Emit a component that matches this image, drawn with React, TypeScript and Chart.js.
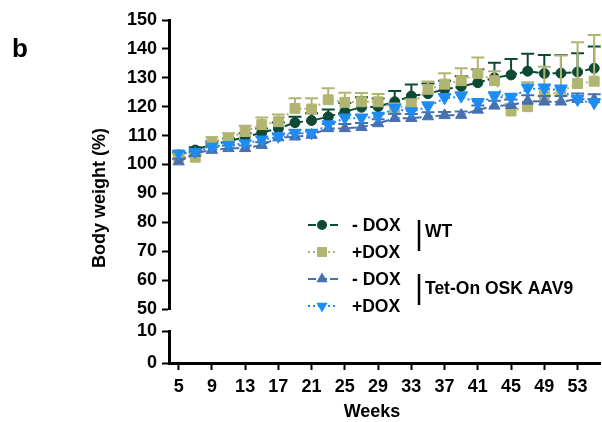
import React, { useEffect, useRef } from 'react';
import { Chart, registerables } from 'chart.js';

Chart.register(...registerables);

// ---- data ----
const weeks = [5, 7, 9, 11, 13, 15, 17, 19, 21, 23, 25, 27, 29, 31, 33, 35, 37, 39, 41, 43, 45, 47, 49, 51, 53, 55];

const wtMinusDox = [103.3, 105, 107, 108, 109.5, 111, 112.5, 114.5, 115.2, 116.5, 118.3, 119.8, 120, 121.7, 123.7, 124.5, 126, 127, 128.3, 130, 131, 132.3, 131.5, 131.6, 132, 133.3];
const wtMinusDoxErr = [0.8, 1, 1, 1, 1.3, 1.5, 2, 2, 2.5, 2.5, 3, 3.5, 2.8, 3.7, 4, 3.5, 3, 3.5, 4.7, 5.2, 5.5, 6, 6.4, 6.3, 6.5, 7.5];

const wtPlusDox = [102.7, 102.5, 107.9, 109.1, 111.4, 113.8, 114.8, 119.4, 119.2, 122.4, 121.5, 121.7, 121.7, 119.5, 120.6, 126, 127.8, 129, 131.5, 129, 118.5, 120, 123.8, 125.2, 128, 128.8];
const wtPlusDoxErr = [1, 1, 1.5, 1.7, 2, 2.5, 2.5, 3.5, 3.7, 4, 3.3, 3, 2.7, 1.5, 2, 2.7, 3.8, 4.3, 5.5, 3.3, 2.5, 8.5, 10, 12.5, 14.3, 16];

const tetMinusDox = [101, 103.9, 105, 105.6, 105.6, 106.7, 109.3, 109.6, 110.2, 112.5, 112.5, 112.9, 114.2, 116, 116, 116.6, 117, 117.1, 118.9, 120.3, 120.5, 122, 121.7, 121.7, 122.6, 122.5];
const tetMinusDoxErr = [1, 1, 1, 1, 1, 1, 1.2, 1.2, 1.2, 1.5, 1.5, 1.5, 1.5, 1.5, 1.5, 1.5, 1.2, 1.2, 1.5, 1.8, 2, 2, 2, 2, 2, 1.8];

const tetPlusDox = [103.9, 104.3, 106.2, 106.7, 107.3, 108.5, 109.6, 110.8, 110.8, 113.7, 116, 116, 116.6, 119.4, 118.2, 120, 122.9, 123.5, 121.2, 123.5, 123, 126.2, 126.2, 125.8, 122.3, 121.2];
const tetPlusDoxErr = [0.8, 1, 1, 1, 1, 1.2, 1.2, 1.2, 1.2, 1.3, 1.3, 1.3, 1.3, 1.3, 1.3, 1.5, 1.5, 1.5, 1.5, 1.5, 1.5, 1.5, 1.5, 1.5, 1.5, 1.5];

const xTickValues = [5, 9, 13, 17, 21, 25, 29, 33, 37, 41, 45, 49, 53];
const yTopTicks = [50, 60, 70, 80, 90, 100, 110, 120, 130, 140, 150];
const yBottomTicks = [0, 10];

const seriesLabels = ['- DOX', '+DOX', '- DOX', '+DOX'];
const groupLabels = ['WT', 'Tet-On OSK AAV9'];

const COLORS = ['#0c4a34', '#b2b572', '#4870af', '#1e8cf5'];
const FONT_FAMILY = '"Liberation Sans", Arial, sans-serif';

const errorSets = [wtMinusDoxErr, wtPlusDoxErr, tetMinusDoxErr, tetPlusDoxErr];

function toPoints(vals: number[]) {
  return weeks.map((w, i) => ({ x: w, y: vals[i] }));
}

function drawMarker(ctx: CanvasRenderingContext2D, style: string, x: number, y: number, r: number, rot: number) {
  ctx.beginPath();
  if (style === 'circle') {
    ctx.arc(x, y, r, 0, Math.PI * 2);
  } else if (style === 'rect') {
    const s = r * Math.SQRT1_2;
    ctx.rect(x - s, y - s, 2 * s, 2 * s);
  } else {
    let rad = (rot * Math.PI) / 180;
    ctx.moveTo(x + Math.sin(rad) * r, y - Math.cos(rad) * r);
    rad += (2 * Math.PI) / 3;
    ctx.lineTo(x + Math.sin(rad) * r, y - Math.cos(rad) * r);
    rad += (2 * Math.PI) / 3;
    ctx.lineTo(x + Math.sin(rad) * r, y - Math.cos(rad) * r);
    ctx.closePath();
  }
  ctx.fill();
}

const errorBarPlugin = {
  id: 'errorBars',
  beforeDatasetDraw(chart: any, args: any) {
    const idx = args.index;
    const meta = args.meta;
    const ds = chart.data.datasets[idx];
    const errs = errorSets[idx];
    const yScale = chart.scales[meta.yAxisID];
    const ctx = chart.ctx;
    ctx.save();
    ctx.strokeStyle = ds.borderColor;
    ctx.lineWidth = 2;
    ctx.setLineDash([]);
    meta.data.forEach((pt: any, i: number) => {
      const v = ds.data[i].y;
      const yTop = yScale.getPixelForValue(v + errs[i]);
      ctx.beginPath();
      ctx.moveTo(pt.x, pt.y);
      ctx.lineTo(pt.x, yTop);
      ctx.moveTo(pt.x - 6.5, yTop);
      ctx.lineTo(pt.x + 6.5, yTop);
      ctx.stroke();
    });
    ctx.restore();
  },
};

const annotationPlugin = {
  id: 'annotations',
  afterDraw(chart: any) {
    const ctx = chart.ctx;
    const dsets = chart.data.datasets;
    ctx.save();
    ctx.fillStyle = '#000';
    // panel letter
    ctx.font = `bold 26px ${FONT_FAMILY}`;
    ctx.textAlign = 'left';
    ctx.textBaseline = 'alphabetic';
    ctx.fillText('b', 12, 57);

    // axis titles
    ctx.font = `bold 18px ${FONT_FAMILY}`;
    ctx.textAlign = 'center';
    ctx.textBaseline = 'middle';
    ctx.fillText('Weeks', 372, 412);
    ctx.save();
    ctx.translate(100, 198);
    ctx.rotate(-Math.PI / 2);
    ctx.fillText('Body weight (%)', 0, 0);
    ctx.restore();

    // legend
    const rowY = [225, 252, 279, 306];
    dsets.forEach((ds: any, i: number) => {
      const y = rowY[i];
      ctx.save();
      ctx.strokeStyle = ds.borderColor;
      ctx.lineWidth = 2;
      ctx.setLineDash(ds.borderDash || []);
      ctx.beginPath();
      ctx.moveTo(308, y);
      ctx.lineTo(338, y);
      ctx.stroke();
      ctx.setLineDash([]);
      ctx.fillStyle = ds.pointBackgroundColor;
      drawMarker(ctx, ds.pointStyle, 322, y, ds.pointRadius, ds.pointRotation || 0);
      ctx.restore();
      ctx.fillStyle = '#000';
      ctx.font = `bold 17.5px ${FONT_FAMILY}`;
      ctx.textAlign = 'left';
      ctx.textBaseline = 'middle';
      ctx.fillText(seriesLabels[i], 352, y + 1);
    });
    // group brackets
    ctx.strokeStyle = '#000';
    ctx.lineWidth = 2.5;
    ctx.beginPath();
    ctx.moveTo(419, 220);
    ctx.lineTo(419, 251);
    ctx.moveTo(419, 274);
    ctx.lineTo(419, 305);
    ctx.stroke();
    ctx.textAlign = 'left';
    ctx.textBaseline = 'middle';
    ctx.fillText(groupLabels[0], 425, 232);
    ctx.fillText(groupLabels[1], 425, 289);
    ctx.restore();
  },
};

const tickFont = { family: FONT_FAMILY, size: 18, weight: 'bold' as const };
const gridOpts = { drawOnChartArea: false, drawTicks: true, tickLength: 7, tickWidth: 2, tickColor: '#000' };
const borderOpts = { display: true, color: '#000', width: 3 };

export default function App() {
  const canvasRef = useRef<HTMLCanvasElement | null>(null);

  useEffect(() => {
    if (!canvasRef.current) return;
    const mk = (i: number, vals: number[], style: string, radius: number, dash: number[], rot = 0) => ({
      label: seriesLabels[i],
      data: toPoints(vals),
      xAxisID: 'x',
      yAxisID: 'y',
      borderColor: COLORS[i],
      backgroundColor: COLORS[i],
      pointBackgroundColor: COLORS[i],
      pointBorderColor: COLORS[i],
      pointBorderWidth: 1,
      pointStyle: style,
      pointRadius: radius,
      pointRotation: rot,
      borderWidth: 2,
      borderDash: dash,
      fill: false,
      tension: 0,
      clip: false,
      order: 3 - i,
    });
    const chart = new Chart(canvasRef.current, {
      type: 'line',
      data: {
        datasets: [
          mk(0, wtMinusDox, 'circle', 5, [8, 3]),
          mk(1, wtPlusDox, 'rect', 7, [2, 3]),
          mk(2, tetMinusDox, 'triangle', 6.5, [8, 3]),
          mk(3, tetPlusDox, 'triangle', 6.5, [2, 3], 180),
        ] as any,
      },
      plugins: [errorBarPlugin, annotationPlugin],
      options: {
        animation: false,
        responsive: false,
        maintainAspectRatio: false,
        devicePixelRatio: 1,
        layout: { autoPadding: false, padding: { left: 0, top: 20, right: 2, bottom: 0 } },
        plugins: { legend: { display: false }, tooltip: { enabled: false }, title: { display: false } },
        scales: {
          x: {
            type: 'linear',
            position: 'bottom',
            min: 3.84,
            max: 55.7,
            afterBuildTicks: (s: any) => {
              s.ticks = xTickValues.map((v) => ({ value: v }));
            },
            afterFit: (s: any) => {
              s.height = 59;
              s.paddingLeft = 0;
              s.paddingRight = 0;
            },
            ticks: { font: tickFont, color: '#000', padding: 6, maxRotation: 0, autoSkip: false },
            grid: gridOpts,
            border: borderOpts,
          },
          y: {
            type: 'linear',
            position: 'left',
            stack: 'yaxis',
            stackWeight: 289,
            weight: 3,
            min: 50,
            max: 150,
            afterBuildTicks: (s: any) => {
              s.ticks = yTopTicks.map((v) => ({ value: v }));
            },
            afterFit: (s: any) => {
              s.width = 169;
            },
            ticks: { font: tickFont, color: '#000', padding: 5, autoSkip: false },
            grid: gridOpts,
            border: borderOpts,
          },
          yGap: {
            type: 'linear',
            position: 'left',
            stack: 'yaxis',
            stackWeight: 22,
            weight: 2,
            min: 0,
            max: 1,
            afterFit: (s: any) => {
              s.width = 169;
            },
            ticks: { display: false },
            grid: { display: false },
            border: { display: false },
          },
          yBottom: {
            type: 'linear',
            position: 'left',
            stack: 'yaxis',
            stackWeight: 32,
            weight: 1,
            min: 0,
            max: 10,
            afterBuildTicks: (s: any) => {
              s.ticks = yBottomTicks.map((v) => ({ value: v }));
            },
            afterFit: (s: any) => {
              s.width = 169;
            },
            ticks: { font: tickFont, color: '#000', padding: 5, autoSkip: false },
            grid: gridOpts,
            border: borderOpts,
          },
        } as any,
      },
    } as any);
    return () => chart.destroy();
  }, []);

  return (
    <div style={{ position: 'fixed', left: 0, top: 0, width: 602, height: 422, background: '#fff' }}>
      <canvas ref={canvasRef} width={602} height={422} style={{ width: 602, height: 422, display: 'block' }} />
    </div>
  );
}
